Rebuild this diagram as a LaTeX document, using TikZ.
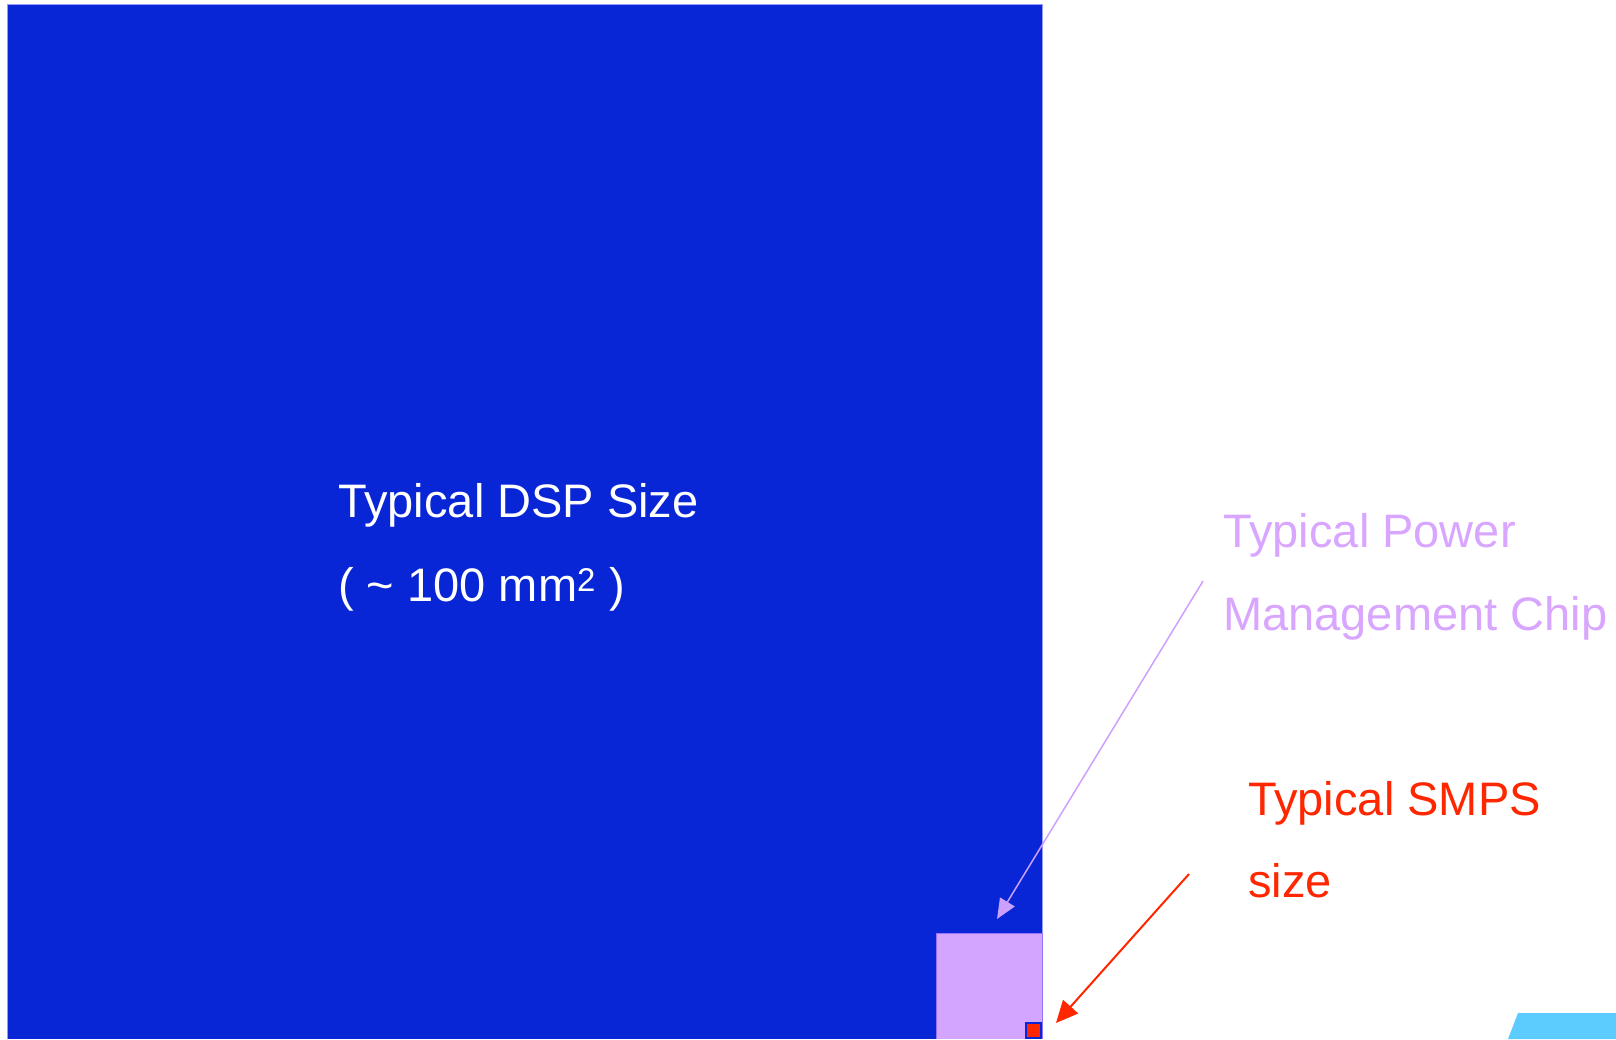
\documentclass[tikz,border=0pt]{standalone}
\usepackage{fontspec}
\setmainfont{Liberation Sans}
\usetikzlibrary{arrows.meta}
\definecolor{dspblue}{RGB}{8,38,214}
\definecolor{pmfill}{RGB}{212,165,255}
\definecolor{pmtext}{RGB}{217,166,255}
\definecolor{pmline}{RGB}{204,160,255}
\definecolor{smred}{RGB}{255,38,0}
\definecolor{cyanish}{RGB}{92,204,255}
\tikzset{
  lbl/.style={anchor=base west, inner sep=0pt, font=\fontsize{47}{51}\selectfont},
}
\begin{document}
\begin{tikzpicture}[x=1pt,y=-1pt]
\useasboundingbox (0,0) rectangle (1616,1039);
% DSP die
\fill[dspblue] (7,4) rectangle (1042,1039);
\draw[blue!40!white, line width=0.8pt] (7,1039) -- (7,4) -- (1042,4) -- (1042,1039);
% power management chip
\fill[pmfill] (936,933) rectangle (1042,1039);
\draw[pmfill!70!blue, line width=0.8pt] (936,1039) -- (936,933) -- (1042,933) -- (1042,1039);
% SMPS
\filldraw[fill=smred, draw=dspblue, line width=1.5pt] (1026,1023) rectangle (1041,1038);
% cyan partial shape
\fill[cyanish] (1508,1039) -- (1518,1013) -- (1616,1013) -- (1616,1039) -- cycle;
% labels
\node[lbl, text=white] (dsp1) at (338,517) {Typical DSP Size};
\node[lbl, text=white] (dsp2) at (338,601) {( \char"007E\ 100 mm\textsuperscript{2} )};
\node[lbl, text=pmtext] (pm1) at (1223,547) {Typical Power};
\node[lbl, text=pmtext] (pm2) at (1223,630) {Management Chip};
\node[lbl, text=smred] (sm1) at (1248,815) {Typical SMPS};
\node[lbl, text=smred] (sm2) at (1248,897) {size};
% arrows
\coordinate (pmstart) at (1203,581);
\coordinate (pmtip) at (997,919);
\coordinate (smstart) at (1189,874);
\coordinate (smtip) at (1056,1023);
\draw[pmline, line width=1.5pt, -{Triangle[length=20pt,width=17pt]}] (pmstart) -- (pmtip);
\draw[smred, line width=2pt, -{Triangle[length=22pt,width=20pt]}] (smstart) -- (smtip);
\end{tikzpicture}
\end{document}
